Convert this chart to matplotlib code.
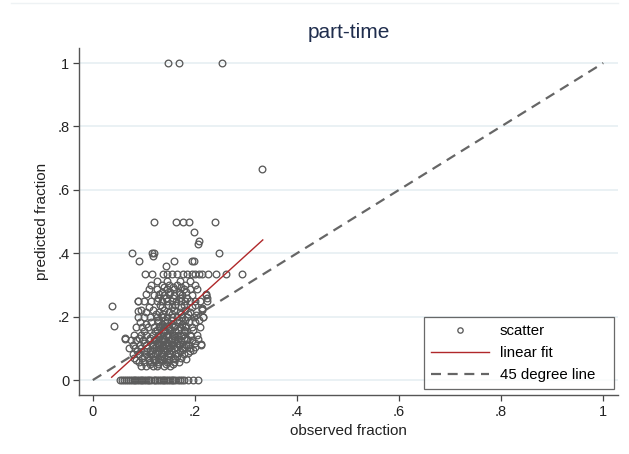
import matplotlib
matplotlib.use("Agg")
import matplotlib.pyplot as plt
import numpy as np

plt.rcParams["font.family"] = ["Liberation Sans", "DejaVu Sans"]

# rows of the cluster: predicted level -> observed fractions
zero_obs = [0.053, 0.057, 0.061, 0.066, 0.069, 0.073, 0.077, 0.08, 0.083, 0.087,
            0.09, 0.094, 0.097, 0.101, 0.104, 0.108, 0.111, 0.115, 0.119, 0.122,
            0.126, 0.129, 0.133, 0.137, 0.14, 0.144, 0.147, 0.151, 0.155, 0.158,
            0.162, 0.166, 0.17, 0.174, 0.178, 0.186, 0.196, 0.206]

cluster_levels = [0.045, 0.056, 0.063, 0.071, 0.077, 0.083, 0.091, 0.1, 0.111,
                  0.118, 0.125, 0.133, 0.143, 0.154, 0.167, 0.176, 0.182, 0.2,
                  0.214, 0.222, 0.231, 0.25, 0.267, 0.273, 0.286, 0.3, 0.313,
                  0.333]
cluster_obs = [
    [0.095, 0.105, 0.118, 0.125, 0.14, 0.152],
    [0.09, 0.1, 0.112, 0.13, 0.145, 0.16, 0.168],
    [0.085, 0.11, 0.122, 0.135, 0.15],
    [0.08, 0.097, 0.108, 0.128, 0.14, 0.158, 0.172],
    [0.1, 0.118, 0.133, 0.148, 0.165],
    [0.078, 0.09, 0.105, 0.115, 0.125, 0.138, 0.152, 0.162, 0.178],
    [0.087, 0.1, 0.112, 0.13, 0.145, 0.17, 0.19],
    [0.07, 0.083, 0.095, 0.107, 0.12, 0.132, 0.14, 0.15, 0.16, 0.175, 0.19],
    [0.078, 0.092, 0.105, 0.118, 0.128, 0.138, 0.148, 0.158, 0.168, 0.182, 0.212],
    [0.1, 0.125, 0.145, 0.165, 0.2],
    [0.075, 0.085, 0.098, 0.11, 0.12, 0.13, 0.14, 0.15, 0.16, 0.172, 0.185, 0.195],
    [0.063, 0.09, 0.112, 0.135, 0.155, 0.178],
    [0.08, 0.095, 0.105, 0.117, 0.127, 0.137, 0.147, 0.157, 0.167, 0.177, 0.19, 0.205],
    [0.1, 0.122, 0.142, 0.162, 0.18],
    [0.085, 0.097, 0.108, 0.12, 0.13, 0.14, 0.15, 0.16, 0.17, 0.18, 0.195, 0.21],
    [0.105, 0.135, 0.155, 0.175],
    [0.092, 0.115, 0.128, 0.145, 0.165, 0.188, 0.2],
    [0.088, 0.1, 0.112, 0.125, 0.135, 0.145, 0.155, 0.165, 0.175, 0.185, 0.198, 0.216],
    [0.105, 0.13, 0.15, 0.17, 0.19],
    [0.095, 0.118, 0.14, 0.16, 0.18, 0.214],
    [0.11, 0.135, 0.155, 0.172, 0.195],
    [0.088, 0.1, 0.115, 0.125, 0.135, 0.145, 0.155, 0.163, 0.172, 0.18, 0.19, 0.2, 0.21, 0.224],
    [0.12, 0.14, 0.16, 0.175, 0.195, 0.222],
    [0.105, 0.13, 0.15, 0.17],
    [0.11, 0.125, 0.145, 0.16, 0.178, 0.19, 0.205],
    [0.115, 0.135, 0.15, 0.165, 0.18, 0.2],
    [0.125, 0.145, 0.17, 0.19],
    [0.102, 0.116, 0.137, 0.145, 0.155, 0.165, 0.176, 0.185, 0.194, 0.2, 0.208,
     0.214, 0.226, 0.242, 0.261, 0.292],
]

# extra points filling the dark core of the cloud
core_levels = [0.052, 0.067, 0.086, 0.095, 0.105, 0.115, 0.13, 0.138, 0.158,
               0.172, 0.19, 0.208, 0.238, 0.26, 0.278, 0.294]
core_obs = [
    [0.113, 0.128, 0.143, 0.157],
    [0.118, 0.131, 0.146, 0.162, 0.183],
    [0.121, 0.134, 0.149, 0.167, 0.186],
    [0.116, 0.138, 0.153, 0.174, 0.196],
    [0.124, 0.136, 0.152, 0.164, 0.179, 0.201],
    [0.127, 0.142, 0.156, 0.171, 0.187],
    [0.123, 0.139, 0.153, 0.166, 0.184, 0.206],
    [0.128, 0.144, 0.159, 0.173, 0.192],
    [0.126, 0.137, 0.151, 0.166, 0.178, 0.197],
    [0.132, 0.146, 0.161, 0.183],
    [0.128, 0.141, 0.153, 0.168, 0.181, 0.208],
    [0.124, 0.138, 0.156, 0.173, 0.186],
    [0.131, 0.147, 0.162, 0.178, 0.2],
    [0.128, 0.143, 0.158, 0.17, 0.185],
    [0.136, 0.152, 0.168, 0.183],
    [0.14, 0.157, 0.173],
]

outlier_obs = [0.147, 0.169, 0.253, 0.331, 0.12, 0.163, 0.176, 0.188, 0.239,
               0.198, 0.208, 0.206, 0.076, 0.116, 0.12, 0.247, 0.118, 0.09,
               0.143, 0.16, 0.194, 0.198, 0.037, 0.041, 0.063, 0.088, 0.088,
               0.214, 0.216, 0.212, 0.224, 0.222, 0.214, 0.203]
outlier_pred = [1.0, 1.0, 1.0, 0.667, 0.5, 0.5, 0.5, 0.5, 0.5,
                0.467, 0.44, 0.43, 0.4, 0.4, 0.4, 0.4, 0.39, 0.375,
                0.36, 0.375, 0.375, 0.375, 0.233, 0.17, 0.13, 0.218, 0.25,
                0.227, 0.2, 0.114, 0.26, 0.27, 0.224, 0.205]

fit_x = [0.037, 0.333]
fit_y = [0.009, 0.442]
diag = [0.0, 1.0]

ticks = [0, 0.2, 0.4, 0.6, 0.8, 1]
tick_labels = ["0", ".2", ".4", ".6", ".8", "1"]

obs = list(zero_obs) + list(outlier_obs)
pred = [0.0] * len(zero_obs) + list(outlier_pred)
for lvl, xs in zip(cluster_levels + core_levels, cluster_obs + core_obs):
    obs += xs
    pred += [lvl] * len(xs)

fig = plt.figure(figsize=(6.29, 4.54), dpi=100)
ax = fig.add_axes([0.1256, 0.13, 0.857, 0.764])

grey = "#5b5b5b"
# trailing spaces give the wider right margin of the stata legend box
ax.plot(obs, pred, "o", ls="none", mfc="none", mec=grey, ms=4.8, mew=0.95,
        label="scatter", zorder=3)
ax.plot(fit_x, fit_y, color="#b0282a", lw=1.0, label="linear fit", zorder=4)
ax.plot(diag, diag, color="#666666", lw=1.6, ls=(0, (4.5, 3)),
        label="45 degree line   ", zorder=2)

ax.set_xlim(-0.027, 1.029)
ax.set_ylim(-0.047, 1.047)
ax.set_xticks(ticks)
ax.set_xticklabels(tick_labels)
ax.set_yticks(ticks)
ax.set_yticklabels(tick_labels)
ax.tick_params(length=4, width=0.9, color="#444444", labelsize=10.5,
               labelcolor="#222222", pad=3)
ax.yaxis.grid(True, color="#e8f0f3", lw=1.3)
ax.set_axisbelow(True)
for side in ["top", "right"]:
    ax.spines[side].set_visible(False)
for side in ["left", "bottom"]:
    ax.spines[side].set_color("#555555")
    ax.spines[side].set_linewidth(1.0)

ax.set_xlabel("observed fraction", fontsize=11, color="#222222", labelpad=4)
ax.set_ylabel("predicted fraction", fontsize=11, color="#222222", labelpad=6)
ax.set_title("part-time", fontsize=15, color="#1f2d4d", pad=7)

leg = ax.legend(loc="lower right", bbox_to_anchor=(0.993, 0.017),
                borderaxespad=0, fontsize=10.8, handlelength=3.9, handletextpad=0.7,
                labelspacing=0.55, borderpad=0.45, fancybox=False, frameon=True,
                markerscale=0.8)
leg.get_frame().set_edgecolor("#444444")
leg.get_frame().set_linewidth(0.9)

fig.add_artist(plt.Line2D([0.018, 0.982], [0.993, 0.993], color="#eef2f4",
                          lw=1.0, transform=fig.transFigure))

fig.savefig("out.png", dpi=100)
